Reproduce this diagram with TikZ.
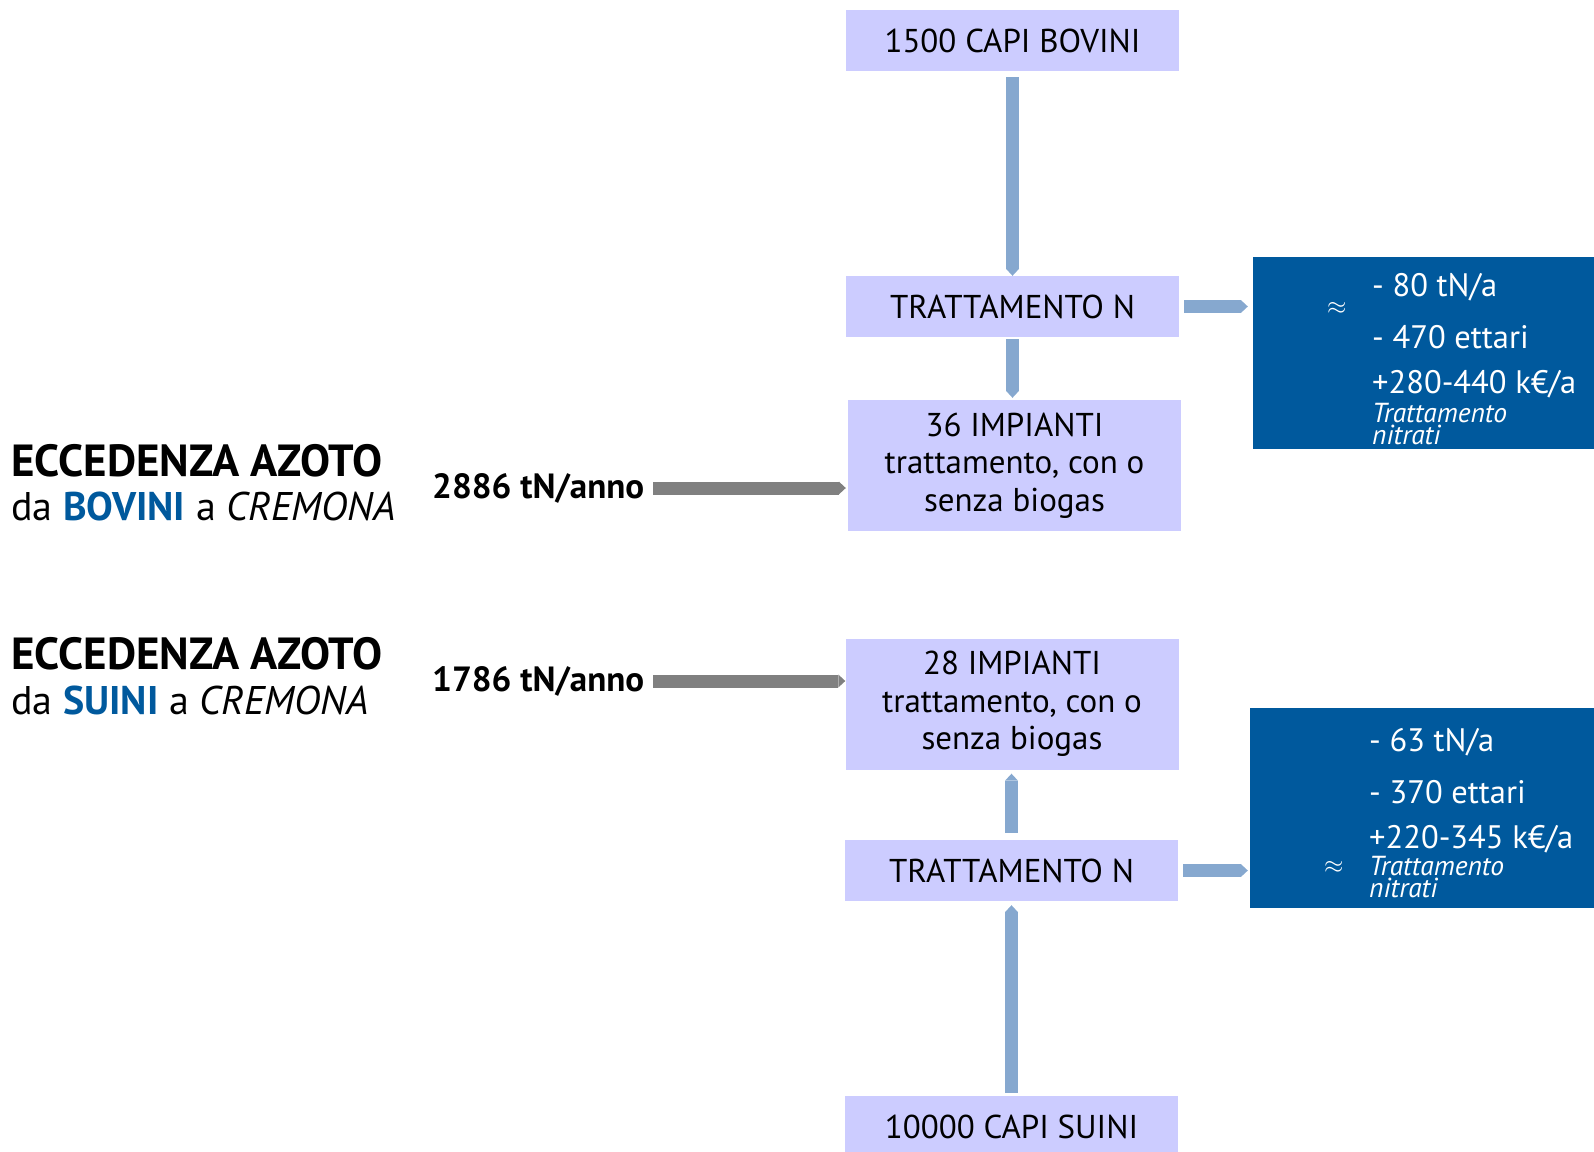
\documentclass[tikz,border=0pt]{standalone}
\usepackage{fontspec}
\setmainfont{PT Sans}
\usetikzlibrary{arrows.meta, positioning}
\definecolor{lilla}{HTML}{CCCCFF}
\definecolor{azzurro}{HTML}{86A8CF}
\definecolor{blu}{HTML}{00599D}
\definecolor{grigio}{HTML}{808080}

\begin{document}
\begin{tikzpicture}[x=1pt,y=-1pt,node distance=100pt,on grid]
    \tikzstyle{box}=[fill=lilla, minimum width=333pt, minimum height=61pt, inner sep=0pt, font=\fontsize{33}{37.5}\selectfont, align=center]
    \tikzstyle{bigbox}=[box, minimum height=131pt]
    \tikzstyle{result}=[fill=blu, inner sep=0pt]
    \tikzstyle{txt}=[inner sep=0pt, anchor=west]
    \tikzstyle{val}=[txt, text=white, font=\fontsize{32.5}{36}\selectfont]
    \tikzstyle{note}=[txt, text=white, align=left, font=\fontsize{27.5}{22.5}\selectfont\itshape]
    \tikzstyle{circa}=[txt, text=white, font=\fontsize{27}{27}\selectfont]
    \tikzstyle{title}=[txt, font=\fontsize{40}{46}\selectfont]
    \tikzstyle{flow}=[draw=azzurro, line width=13pt, -{Triangle[length=7pt,width=13pt,line width=0pt]}]
    \tikzstyle{input}=[flow, draw=grigio]

    \useasboundingbox (0,0) rectangle (1594,1151);

    % bovini
    \node[box] (capiB) at (1012.5,40.5) {1500 CAPI BOVINI};
    \node[box, below=266pt of capiB] (trattB) {TRATTAMENTO N};
    \node[bigbox] (impB) at (1014.5,465.5) {36 IMPIANTI\\trattamento, con o\\senza biogas};
    \node[result, minimum width=341pt, minimum height=192pt] (resB) at (1423.5,353) {};
    \node[val] (tnB) at (1372,287) {- 80 tN/a};
    \node[val] (haB) at (1372,337) {- 470 ettari};
    \node[val] (keB) at (1372,384) {+280-440 k€/a};
    \node[note] (ntB) at (1372,424) {Trattamento\\nitrati};
    \node[circa] (apB) at (1327,308) {$\approx$};

    \node[title, font=\fontsize{45}{46}\selectfont\bfseries] (eccB) at (11,461) {ECCEDENZA AZOTO};
    \node[title] (daB) at (11,506) {da \textbf{\textcolor{blu}{BOVINI}} a \textit{CREMONA}};
    \node[txt, font=\fontsize{35}{36}\selectfont\bfseries] (qB) at (432,488) {2886 tN/anno};

    % suini
    \node[bigbox] (impS) at (1012,704) {28 IMPIANTI\\trattamento, con o\\senza biogas};
    \node[box] (trattS) at (1011.5,870.5) {TRATTAMENTO N};
    \node[box, below=256pt of trattS] (capiS) {10000 CAPI SUINI};
    \node[result, minimum width=344pt, minimum height=200pt] (resS) at (1422,808) {};
    \node[val] (tnS) at (1369,742) {- 63 tN/a};
    \node[val] (haS) at (1369,792) {- 370 ettari};
    \node[val] (keS) at (1369,839) {+220-345 k€/a};
    \node[note] (ntS) at (1369,877) {Trattamento\\nitrati};
    \node[circa] (apS) at (1324,867) {$\approx$};

    \node[title, font=\fontsize{45}{46}\selectfont\bfseries] (eccS) at (11,654) {ECCEDENZA AZOTO};
    \node[title] (daS) at (11,700) {da \textbf{\textcolor{blu}{SUINI}} a \textit{CREMONA}};
    \node[txt, font=\fontsize{35}{36}\selectfont\bfseries] (qS) at (432,681) {1786 tN/anno};

    \draw[flow, shorten <=6pt] (capiB) -- (trattB);
    \draw[flow, shorten <=2pt, shorten >=2pt] (trattB.south) -- (trattB.south |- impB.north);
    \draw[flow, shorten <=5pt, shorten >=5pt] (trattB.east) -- (trattB.east -| resB.west);
    \draw[flow, shorten <=7pt, shorten >=4pt] (trattS.north) -- (trattS.north |- impS.south);
    \draw[flow, shorten <=3pt, shorten >=4pt] (trattS.south |- capiS.north) -- (trattS.south);
    \draw[flow, shorten <=5pt, shorten >=2pt] (trattS.east) -- (trattS.east -| resS.west);

    \draw[input, shorten <=9pt, shorten >=2pt] (qB.east) -- (qB.east -| impB.west);
    \draw[input, shorten <=9pt] (qS.east) -- (qS.east -| impS.west);

\end{tikzpicture}
\end{document}
